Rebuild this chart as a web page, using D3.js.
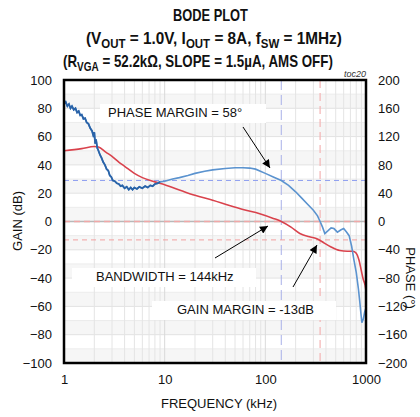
<!DOCTYPE html>
<html><head><meta charset="utf-8">
<script src="https://cdn.jsdelivr.net/npm/d3@7"></script>
<style>body{margin:0;background:#fff}svg{display:block;font-family:"Liberation Sans",Arial,sans-serif}</style>
</head><body><svg id="c" width="420" height="417"></svg>
<script>
const gainFreq = [1,1.5,2.0,2.2,2.6,3,3.5,4,5,6,8,10,15,20,30,44,60,88,120,144,180,220,280,320,350,380,450,550,650,740,800,850,900,940,980,1000];
const gainDb   = [50,51.5,53,52.6,49,46,42,39,34,31,28,26,21.5,18.5,15,11.3,8.5,5.5,2.2,0,-4,-8.5,-11,-12,-13.4,-15,-18,-20.5,-21,-21,-22.5,-27,-35,-41,-45,-49];
const phaseFreq = [1.0,1.04,1.08,1.12,1.16,1.2,1.25,1.3,1.35,1.4,1.45,1.5,1.56,1.62,1.68,1.75,1.82,1.9,1.95,2.0,2.04,2.08,2.14,2.2,2.28,2.36,2.45,2.55,2.65,2.75,2.85,2.95,3.05,3.2,3.35,3.5,3.65,3.8,4.0,4.2,4.4,4.6,4.8,5.0,5.3,5.6,6.0,6.4,6.8,7.2,7.6,8.0,8.5,9,10,12,14,17,20,25,30,40,50,60,70,80,100,120,144,170,200,230,260,300,330,350,370,390,420,450,480,520,560,600,640,680,720,760,800,840,870,890,910,940,970,1000];
const phaseDeg  = [166,169,163,166,160,163,158,160,154,156,150,151,145,146,140,138,132,128,122,126,110,116,104,100,94,90,84,80,74,72,65,63,58,57,54,53,50,51,47,49,45,48,45,48,46,49,47,50,48,51,50,53,54,56,57,60,62,65,68,71,73,75,76,76,75.5,74,68,63,58,51,42,33,25,16,8,0,-8,-17,-13,-9,-10,-15,-12,-10,-15,-20,-35,-55,-72,-95,-115,-130,-143,-138,-128,-122];
const gainTicks = [100,80,60,40,20,0,-20,-40,-60,-80,-100];
const phaseTicks = [200,160,120,80,40,0,-40,-80,-120,-160,-200];
const freqTicks = [1,10,100,1000];
const bandwidth = 144, gainMarginFreq = 350, phaseMargin = 58, gainMargin = -13;

const svg = d3.select("#c");
const L=64, R=366, T=80, B=363;
const x = d3.scaleLog().domain([1,1000]).range([L,R]);
const yG = d3.scaleLinear().domain([-100,100]).range([B,T]);
const yP = d3.scaleLinear().domain([-200,200]).range([B,T]);

const g = svg.append("g");
for (let v=-100; v<100; v+=20) {
  g.append("rect").attr("x",L).attr("width",R-L).attr("y",yG(v+10)).attr("height",yG(v)-yG(v+10)).attr("fill","#f6f6f6");
}
d3.range(-90,100,10).forEach(v=>{
  g.append("line").attr("x1",L).attr("x2",R).attr("y1",yG(v)).attr("y2",yG(v)).attr("stroke",v%20===0?"#e2e2e2":"#ececec").attr("stroke-width",1);
});
const minor=[];
[1,10,100].forEach(d=>{for(let k=1;k<10;k++) minor.push(d*k);});
minor.push(1000);
minor.forEach(f=>{
  g.append("line").attr("x1",x(f)).attr("x2",x(f)).attr("y1",T).attr("y2",B).attr("stroke",[1,10,100,1000].includes(f)?"#dadada":"#e4e4e4").attr("stroke-width",1);
});
g.append("line").attr("x1",L).attr("x2",R).attr("y1",yG(0)).attr("y2",yG(0)).attr("stroke","#b8b8b8").attr("stroke-width",1.5);
g.append("line").attr("x1",L).attr("x2",R).attr("y1",yG(0)).attr("y2",yG(0)).attr("stroke","#f0a8a8").attr("stroke-width",1.5).attr("stroke-dasharray","6,4");
g.append("line").attr("x1",L).attr("x2",R).attr("y1",yP(phaseMargin)).attr("y2",yP(phaseMargin)).attr("stroke","#8e9ef0").attr("stroke-width",1).attr("stroke-dasharray","5,4");
g.append("line").attr("x1",x(bandwidth)).attr("x2",x(bandwidth)).attr("y1",T).attr("y2",B).attr("stroke","#a8b0e8").attr("stroke-width",1).attr("stroke-dasharray","10,5");
g.append("line").attr("x1",L).attr("x2",R).attr("y1",yG(gainMargin)).attr("y2",yG(gainMargin)).attr("stroke","#f2a0a0").attr("stroke-width",1).attr("stroke-dasharray","5,4");
g.append("line").attr("x1",x(gainMarginFreq)).attr("x2",x(gainMarginFreq)).attr("y1",T).attr("y2",B).attr("stroke","#f4b4b4").attr("stroke-width",1.2).attr("stroke-dasharray","8,5");

const lineG = d3.line().x((d,i)=>x(gainFreq[i])).y(d=>yG(d)).curve(d3.curveMonotoneX);
const lineP = d3.line().x((d,i)=>x(phaseFreq[i])).y(d=>yP(d)).curve(d3.curveLinear);
svg.append("path").attr("d",lineG(gainDb)).attr("fill","none").attr("stroke","#d9424c").attr("stroke-width",1.6);
const noisyN = phaseFreq.findIndex(f=>f>=9);
svg.append("path").attr("d",lineP(phaseDeg)).attr("fill","none").attr("stroke","#5b93cf").attr("stroke-width",1.6);
svg.append("path").attr("d",d3.line().x((d,i)=>x(phaseFreq[i])).y(d=>yP(d))(phaseDeg.slice(0,noisyN+1))).attr("fill","none").attr("stroke","#2a63a8").attr("stroke-width",1.8);

function label(txt, tx, ty, bx, bw){
  svg.append("rect").attr("x",bx).attr("y",ty-13).attr("width",bw).attr("height",19).attr("fill","#fff");
  svg.append("text").attr("x",tx).attr("y",ty).attr("font-size",13).attr("fill","#111").text(txt);
}
label("PHASE MARGIN = 58°",108,117,100,166);
label("BANDWIDTH = 144kHz",96,281,72,184);
label("GAIN MARGIN = -13dB",177,314,152,184);

const defs = svg.append("defs");
defs.append("marker").attr("id","ah").attr("viewBox","0 0 10 10").attr("refX",10).attr("refY",5)
  .attr("markerWidth",10).attr("markerHeight",8).attr("markerUnits","userSpaceOnUse").attr("orient","auto")
  .append("path").attr("d","M0,0L10,5L0,10z").attr("fill","#000");
function arrow(x1,y1,x2,y2){
  svg.append("line").attr("x1",x1).attr("y1",y1).attr("x2",x2).attr("y2",y2).attr("stroke","#000").attr("stroke-width",1).attr("marker-end","url(#ah)");
}
arrow(243,127,270,168);
arrow(215,258,268,226);
arrow(293,287,317,245);

svg.append("rect").attr("x",L).attr("y",T).attr("width",R-L).attr("height",B-T).attr("fill","none").attr("stroke","#000").attr("stroke-width",2.5);

const axL = svg.append("g").attr("transform",`translate(${L},0)`).call(d3.axisLeft(yG).tickValues(gainTicks).tickSize(0).tickPadding(12));
const axR = svg.append("g").attr("transform",`translate(${R},0)`).call(d3.axisRight(yP).tickValues(phaseTicks).tickSize(0).tickPadding(12));
const axB = svg.append("g").attr("transform",`translate(0,${B})`).call(d3.axisBottom(x).tickValues(freqTicks).tickFormat(d3.format("d")).tickSize(0).tickPadding(12));
[axL,axR,axB].forEach(a=>{a.select(".domain").remove();a.selectAll("text").attr("font-size",13).attr("fill","#111").attr("font-family","Liberation Sans, Arial, sans-serif");});

svg.append("text").attr("x",219).attr("y",408).attr("text-anchor","middle").attr("font-size",13).attr("fill","#111").text("FREQUENCY (kHz)");
svg.append("text").attr("transform","translate(22,221) rotate(-90)").attr("text-anchor","middle").attr("font-size",13).attr("fill","#111").text("GAIN (dB)");
svg.append("text").attr("transform","translate(406,278) rotate(90)").attr("text-anchor","middle").attr("font-size",13).attr("fill","#111").text("PHASE (°)");

// title lines: drawn at natural size, then horizontally condensed with a transform
function titleLine(x0, y0, width, parts){
  const grp = svg.append("g");
  const t = grp.append("text").attr("x",0).attr("y",0).attr("font-size",16).attr("font-weight","bold").attr("fill","#111");
  parts.forEach(p=>{
    const s = t.append("tspan").text(p.t);
    if (p.sub) s.attr("font-size",12).attr("dy",4);
    if (p.back) s.attr("dy",-4);
  });
  const w = t.node().getComputedTextLength();
  grp.attr("transform",`translate(${x0},${y0}) scale(${width/w},1)`);
}
titleLine(173,21,75,[{t:"BODE PLOT"}]);
titleLine(86,44,256,[{t:"(V"},{t:"OUT",sub:1},{t:" = 1.0V, I",back:1},{t:"OUT",sub:1},{t:" = 8A, f",back:1},{t:"SW",sub:1},{t:" = 1MHz)",back:1}]);
titleLine(63,67,270,[{t:"(R"},{t:"VGA",sub:1},{t:" = 52.2kΩ, SLOPE = 1.5µA, AMS OFF)",back:1}]);
svg.append("text").attr("x",366).attr("y",77).attr("text-anchor","end").attr("font-size",9).attr("font-style","italic").attr("fill","#333").text("toc20");
</script></body></html>
